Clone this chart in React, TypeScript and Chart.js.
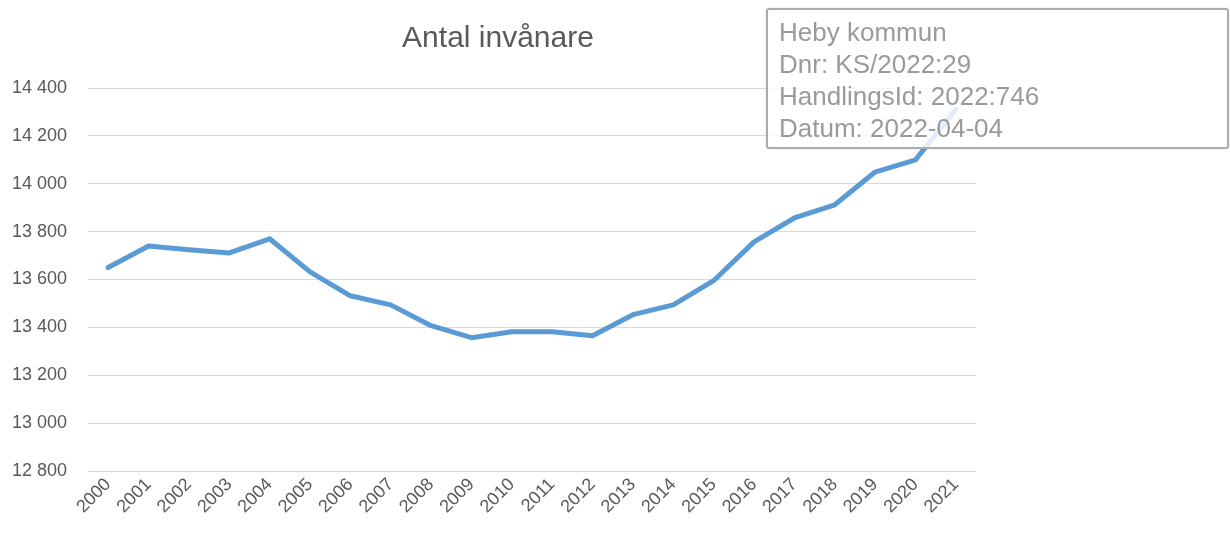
import React, { useEffect, useRef } from "react";
import { Chart, registerables } from "chart.js";

Chart.register(...registerables);

const years: string[] = [
  "2000", "2001", "2002", "2003", "2004", "2005", "2006", "2007", "2008", "2009", "2010",
  "2011", "2012", "2013", "2014", "2015", "2016", "2017", "2018", "2019", "2020", "2021",
];

const inhabitants: number[] = [
  13650, 13740, 13724, 13711, 13770, 13632, 13532, 13494, 13407, 13357, 13382,
  13382, 13365, 13453, 13494, 13595, 13757, 13857, 13912, 14049, 14100, 14310,
];

const yMin = 12800;
const yMax = 14400;
const yStep = 200;

const chartTitle = "Antal invånare";
const stampLines: string[] = [
  "Heby kommun",
  "Dnr: KS/2022:29",
  "HandlingsId: 2022:746",
  "Datum: 2022-04-04",
];

const FONT = "'Liberation Sans', Arial, sans-serif";

const titlePlugin = {
  id: "centeredTitle",
  afterDraw(chart: any) {
    const ctx = chart.ctx;
    ctx.save();
    ctx.fillStyle = "#595959";
    ctx.font = `30px ${FONT}`;
    ctx.textAlign = "center";
    ctx.textBaseline = "middle";
    ctx.fillText(chartTitle, 498, 39);
    ctx.restore();
  },
};

export default function App() {
  const canvasRef = useRef<HTMLCanvasElement | null>(null);

  useEffect(() => {
    document.body.style.margin = "0";
    const canvas = canvasRef.current;
    if (!canvas) return;
    const chart = new Chart(canvas, {
      type: "line",
      data: {
        labels: years,
        datasets: [
          {
            label: chartTitle,
            data: inhabitants,
            borderColor: "#5b9bd5",
            backgroundColor: "#5b9bd5",
            borderWidth: 5,
            pointRadius: 0,
            tension: 0,
            borderCapStyle: "round",
            borderJoinStyle: "round",
          },
        ],
      },
      plugins: [titlePlugin],
      options: {
        responsive: false,
        animation: false,
        maintainAspectRatio: false,
        layout: { padding: { left: 0, right: 254, top: 88, bottom: 0 } },
        plugins: {
          legend: { display: false },
          tooltip: { enabled: false },
          title: { display: false },
        },
        scales: {
          x: {
            type: "category",
            offset: true,
            grid: { display: false, drawTicks: false },
            border: { display: false },
            ticks: {
              color: "#595959",
              font: { family: FONT, size: 18 },
              minRotation: 45,
              maxRotation: 45,
              autoSkip: false,
              padding: 3,
            },
            afterFit: (scale: any) => {
              scale.height = 62;
            },
          },
          y: {
            min: yMin,
            max: yMax,
            grid: { color: "#d9d9d9", lineWidth: 1, drawTicks: false },
            border: { display: false },
            ticks: {
              stepSize: yStep,
              color: "#595959",
              font: { family: FONT, size: 18 },
              padding: 21,
              callback: (v: any) => {
                const n = Number(v);
                const s = String(Math.round(n));
                return s.length > 3 ? s.slice(0, s.length - 3) + " " + s.slice(-3) : s;
              },
            },
            afterFit: (scale: any) => {
              scale.width = 88;
            },
          },
        },
      },
    });
    return () => chart.destroy();
  }, []);

  return (
    <div style={{ position: "relative", width: 1230, height: 533, background: "#fff", overflow: "hidden" }}>
      <canvas ref={canvasRef} width={1230} height={533} style={{ display: "block" }} />
      <div
        style={{
          position: "absolute",
          left: 766,
          top: 8,
          width: 463,
          height: 141,
          border: "2px solid #ababab",
          borderRadius: 3,
          background: "rgba(255,255,255,0.82)",
          boxShadow: "0 0 2px rgba(0,0,0,0.15)",
          color: "#9a9a9a",
          fontFamily: FONT,
          fontSize: 26,
          lineHeight: "32px",
          paddingTop: 6,
          paddingLeft: 11,
          boxSizing: "border-box",
        }}
      >
        {stampLines.map((l) => (
          <div key={l}>{l}</div>
        ))}
      </div>
    </div>
  );
}
